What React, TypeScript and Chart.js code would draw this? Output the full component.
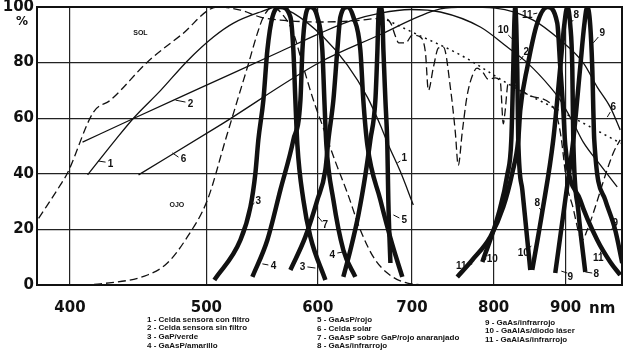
import React, { useEffect, useRef } from "react";
import { Chart, registerables } from "chart.js";

Chart.register(...registerables);

type P = [number, number];

const X_TICKS = [400, 500, 600, 700, 800, 900];
const Y_TICKS = [0, 20, 40, 60, 80, 100];
const X_MIN = 379;
const X_MAX = 987;

// Solar spectrum (dashed) and its upper envelope (dotted)
const SOL: P[] = [
  [380, 24], [393.8, 36], [398.4, 40.3], [415.7, 62.2], [427.4, 66.5], [454.9, 80.6], [480, 90],
  [509.2, 100], [528.7, 98.9], [546.2, 96.4], [564.4, 95.3], [602.6, 94.6], [636, 95], [669, 96],
  [676, 94.2], [681.6, 89.2], [685, 87.1], [692.8, 87.1], [700.4, 89.9], [709.6, 89.2], [715.6, 83.5],
  [719, 70], [725, 78.4], [731, 85.3], [737, 85.6], [745.8, 70], [751.4, 55], [755, 43], [760, 55],
  [766, 68], [773.6, 76], [778.6, 78], [786, 76.5], [793, 74], [802, 74.5], [808.8, 73], [812.8, 58],
  [815, 62], [819.4, 72.6], [850, 68], [882, 64], [892.2, 55], [902.5, 35.3], [909.9, 28.8],
  [924.8, 16.2], [932.4, 19.8], [973, 47.5], [984.1, 52.2],
];
const SOL_ENVELOPE: P[] = [[672, 95.3], [700, 91], [758, 82.7], [828, 71], [889, 63], [985, 51]];

// Eye sensitivity (dashed)
const OJO: P[] = [
  [408, 0], [420.5, 0.4], [454.1, 3.6], [469.1, 7.9], [484.7, 17.3], [500.9, 30.6], [515.9, 52.2],
  [526.1, 66.5], [534.8, 78.4], [543.6, 90.6], [548.9, 96.4], [557.1, 100], [566, 97.5], [576.5, 90.6],
  [586, 78.4], [595.7, 66.5], [605.5, 56.5], [617.7, 44.2], [629.8, 33.1], [643.3, 19.8], [657.1, 10.1],
  [672.3, 4.3], [694.7, 0.7], [721.3, 0],
];

// Thin solid curves
const C1: P[] = [
  [411.7, 39.6], [430.9, 52.2], [443.8, 60], [464, 70], [484.7, 80.6], [505.8, 89.2], [522.7, 94.2],
  [546.2, 98.2], [561.7, 100], [576.5, 97.8], [605.5, 89.2], [629.8, 79.1], [650.7, 67.6],
  [664.7, 57.5], [673.5, 50.4], [686.8, 40.8], [701.5, 28.8],
];
const C2: P[] = [
  [408.3, 51.4], [443.8, 59.9], [495.2, 70.9], [564.4, 84], [602.6, 90.6], [632.9, 95], [664.7, 97.8],
  [698.1, 99.1], [733.2, 98.2], [782.8, 92.8], [818.1, 85.6], [845.4, 79.9], [877.7, 71.2],
  [892.2, 66.5], [911.4, 58.3], [926.4, 51.4], [952.5, 43.2], [979.3, 35.3],
];
const C6: P[] = [
  [447.5, 39.6], [511.7, 57.6], [602.6, 80.2], [664.7, 90.1], [709.6, 96.8], [733.2, 99.3], [763.8, 100],
  [802.2, 99.6], [853.6, 95.3], [892.2, 88.1], [926.4, 79.9], [947.8, 71.2], [968.2, 64], [984.1, 55.8],
];

// Thick emission curves
const C3: P[] = [
  [506.6, 1.8], [528.7, 16.2], [537.4, 28.1], [541.8, 40.3], [544.4, 52.2], [548.9, 66.5], [552.5, 84.5],
  [557.1, 96.4], [564.4, 100], [573.7, 96.4], [576.5, 84.5], [578.4, 66.5], [580.3, 50.4], [586, 30.6],
  [592.8, 17.3], [607.5, 1.8],
];
const C4: P[] = [
  [539.1, 2.9], [552.5, 16.2], [564.4, 34.2], [576.5, 52.2], [583.2, 66.5], [585.1, 84.5], [587.9, 96.4],
  [592.8, 100], [599.6, 96.4], [604.5, 84.5], [606.5, 66.5], [608.5, 50.4], [615.5, 30.6], [625.6, 12.6],
  [638, 2.9],
];
const C5: P[] = [
  [625.6, 2.9], [632.9, 12.6], [641.2, 25.2], [648.6, 39.6], [653.9, 52.2], [659.3, 66.5], [661.5, 84.5],
  [662.6, 96.4], [664.7, 100], [666.9, 96.4], [668, 84.5], [670.2, 66.5], [672.3, 50.4], [673.4, 30.6],
  [675.7, 7.9],
];
const C7: P[] = [
  [573.7, 5.4], [587.9, 17.3], [599.6, 30.6], [607.5, 41.4], [610.5, 52.2], [615.5, 66.5], [619.5, 84.5],
  [622.6, 96.4], [629.8, 100], [636, 96.4], [643.3, 84.5], [646.4, 66.5], [650.7, 50.4], [664.7, 30.6],
  [677.9, 14.4], [689, 2.9],
];
const C8: P[] = [
  [852.2, 5.4], [866.3, 26.3], [882, 52.2], [892.2, 78.4], [898, 93.5], [902.5, 100], [906.9, 93.5],
  [909.9, 78.4], [911.4, 52.2], [918.8, 27], [929.4, 4.7],
];
const C9: P[] = [
  [884.9, 4.3], [899.5, 30.6], [911.4, 52.2], [921.8, 78.4], [927.9, 93.5], [932.4, 100], [937, 93.5],
  [940.1, 78.4], [943.2, 52.2], [960.3, 30.6], [976.1, 19.8], [987.4, 7.9],
];
const C10: P[] = [
  [785.4, 8.3], [806.1, 25.2], [818.1, 39.6], [823.5, 52.2], [826.1, 77.3], [827.5, 93.5], [828.9, 100],
  [830.2, 93.5], [831.6, 77.3], [832.9, 52.2], [838.5, 34.2], [844, 19.8], [849.5, 5.4],
];
const C11: P[] = [
  [753.8, 2.9], [772.6, 9], [795.7, 17.3], [812.8, 28.1], [824.8, 40.3], [832.9, 52.2], [835.7, 62.9],
  [845.4, 78.4], [859.2, 94.2], [873.4, 100], [887.8, 94.2], [892.2, 78.4], [896.6, 62.9], [899.5, 50.4],
  [921.8, 30.6], [947.8, 16.2], [968.2, 8.3], [984.1, 3.6],
];

const LEGEND_COL1 = ["1 - Celda sensora con filtro", "2 - Celda sensora sin filtro", "3 - GaP/verde", "4 - GaAsP/amarillo"];
const LEGEND_COL2 = ["5 - GaAsP/rojo", "6 - Celda solar", "7 - GaAsP sobre GaP/rojo anaranjado", "8 - GaAs/infrarrojo"];
const LEGEND_COL3 = ["9 - GaAs/infrarrojo", "10 - GaAlAs/diodo láser", "11 - GaAlAs/infrarrojo"];

// [text, labelX, labelY, leaderX1, leaderY1, leaderX2, leaderY2] in data units
const CURVE_LABELS: [string, number, number, number, number, number, number][] = [
  ["1", 427.4, 43.5, 424, 44.2, 419, 44.6],
  ["1", 691.3, 45.7, 686.8, 44.6, 683.4, 43.9],
  ["2", 487.2, 65.1, 483.2, 65.8, 475.4, 66.5],
  ["2", 844, 83.8, 839.8, 82.4, 835.7, 80.9],
  ["3", 544.4, 30.2, 540.9, 29.5, 537.4, 28.1],
  ["3", 585.1, 6.5, 589.9, 6.5, 597.7, 6.1],
  ["4", 558, 6.8, 553.4, 7.2, 548, 7.6],
  ["4", 614.5, 10.8, 619.5, 11.5, 625.6, 11.9],
  ["5", 691.3, 23.4, 685.7, 24.1, 679, 25.2],
  ["6", 481.6, 45.3, 477.7, 46, 473, 47.5],
  ["6", 973, 64, 968.2, 62.2, 963.5, 60.4],
  ["7", 607.5, 21.6, 604.5, 22.7, 599.6, 24.8],
  ["8", 915.9, 97.1, 911.4, 95.3, 906.9, 94.2],
  ["8", 859.2, 29.5, 862.1, 27.7, 867.7, 25.9],
  ["8", 946.4, 4, 940.1, 4.3, 929.4, 4.7],
  ["9", 955.6, 90.6, 949.5, 89.2, 941.7, 87.1],
  ["9", 976.1, 22.3, 973, 20.9, 969.8, 19.8],
  ["9", 906.9, 2.9, 902.5, 4.3, 893.7, 5],
  ["10", 812.8, 91.7, 819.4, 89.9, 824.8, 88.5],
  ["10", 839.8, 11.5, 845.4, 12.9, 851, 14],
  ["10", 798.2, 9.4, 790.5, 9.4, 785.4, 8.6],
  ["11", 845.4, 97.1, 853.6, 97.5, 859.2, 97.8],
  ["11", 758.8, 6.8, 763.8, 6.8, 772.6, 7.6],
  ["11", 949.5, 9.7, 952.5, 11.5, 957.2, 13.3],
];

const REGION_LABELS: [string, number, number][] = [
  ["SOL", 448.9, 90.5],
  ["OJO", 476.5, 28.8],
];

const INK = "#111";

type Kind = "thick" | "thin" | "dash" | "dot";
const SERIES: { label: string; data: P[]; kind: Kind }[] = [
  { label: "Sol", data: SOL, kind: "dash" },
  { label: "Sol (envolvente)", data: SOL_ENVELOPE, kind: "dot" },
  { label: "Ojo", data: OJO, kind: "dash" },
  { label: LEGEND_COL1[0], data: C1, kind: "thin" },
  { label: LEGEND_COL1[1], data: C2, kind: "thin" },
  { label: LEGEND_COL2[1], data: C6, kind: "thin" },
  { label: LEGEND_COL1[2], data: C3, kind: "thick" },
  { label: LEGEND_COL1[3], data: C4, kind: "thick" },
  { label: LEGEND_COL2[0], data: C5, kind: "thick" },
  { label: LEGEND_COL2[2], data: C7, kind: "thick" },
  { label: LEGEND_COL2[3], data: C8, kind: "thick" },
  { label: LEGEND_COL3[0], data: C9, kind: "thick" },
  { label: LEGEND_COL3[1], data: C10, kind: "thick" },
  { label: LEGEND_COL3[2], data: C11, kind: "thick" },
];

const overlayPlugin = {
  id: "overlay",
  afterDatasetsDraw(chart: any) {
    const { ctx, chartArea, scales } = chart;
    const x = scales.x;
    const y = scales.y;
    ctx.save();
    ctx.strokeStyle = INK;
    ctx.lineWidth = 2;
    ctx.strokeRect(chartArea.left, chartArea.top, chartArea.right - chartArea.left, chartArea.bottom - chartArea.top);

    ctx.fillStyle = INK;
    ctx.lineWidth = 1;
    ctx.textAlign = "center";
    ctx.textBaseline = "middle";
    ctx.font = 'bold 10px "Liberation Sans"';
    for (const [t, tx, ty, x1, y1, x2, y2] of CURVE_LABELS) {
      ctx.beginPath();
      ctx.moveTo(x.getPixelForValue(x1), y.getPixelForValue(y1));
      ctx.lineTo(x.getPixelForValue(x2), y.getPixelForValue(y2));
      ctx.stroke();
      ctx.fillText(t, x.getPixelForValue(tx), y.getPixelForValue(ty));
    }
    ctx.font = 'bold 7px "Liberation Sans"';
    for (const [t, tx, ty] of REGION_LABELS) {
      ctx.fillText(t, x.getPixelForValue(tx), y.getPixelForValue(ty));
    }
    ctx.restore();
  },
  afterDraw(chart: any) {
    const { ctx, chartArea } = chart;
    ctx.save();
    ctx.fillStyle = INK;
    ctx.textBaseline = "middle";
    ctx.textAlign = "center";
    ctx.font = 'bold 12px "DejaVu Sans"';
    ctx.fillText("%", chartArea.left - 15, chartArea.top + 15);
    ctx.textAlign = "left";
    ctx.font = 'bold 15px "DejaVu Sans"';
    ctx.fillText("nm", chartArea.right - 33, chartArea.bottom + 24);
    ctx.font = 'bold 8px "Liberation Sans"';
    const base = chartArea.bottom;
    const cols: [string[], number, number][] = [
      [LEGEND_COL1, 147, base + 34.5],
      [LEGEND_COL2, 317, base + 35],
      [LEGEND_COL3, 485, base + 37.5],
    ];
    for (const [lines, lx, ly] of cols) {
      lines.forEach((s, i) => ctx.fillText(s, lx, ly + i * 8.7));
    }
    ctx.restore();
  },
};

export default function App() {
  const ref = useRef<HTMLCanvasElement | null>(null);
  useEffect(() => {
    if (!ref.current) return;
    const datasets = SERIES.map((s) => ({
      label: s.label,
      data: s.data.map(([x, y]) => ({ x, y })),
      borderColor: INK,
      backgroundColor: INK,
      borderWidth: s.kind === "thick" ? 4.5 : s.kind === "dot" ? 1.5 : 1.3,
      borderDash: s.kind === "dash" ? [8, 4] : s.kind === "dot" ? [2, 4] : [],
      pointRadius: 0,
      fill: false,
      cubicInterpolationMode: "monotone" as const,
      borderCapStyle: "butt" as const,
      borderJoinStyle: "round" as const,
    }));
    const chart = new Chart(ref.current, {
      type: "line",
      data: { datasets },
      plugins: [overlayPlugin],
      options: {
        animation: false,
        responsive: false,
        devicePixelRatio: 1,
        layout: { padding: { top: 7, right: 3, left: 0, bottom: 0 } },
        plugins: { legend: { display: false }, tooltip: { enabled: false } },
        scales: {
          x: {
            type: "logarithmic",
            min: X_MIN,
            max: X_MAX,
            afterBuildTicks: (s: any) => {
              s.ticks = X_TICKS.map((v) => ({ value: v }));
            },
            afterFit: (s: any) => {
              s.height = 73;
              s.paddingLeft = 0;
              s.paddingRight = 0;
            },
            ticks: {
              autoSkip: false,
              maxRotation: 0,
              padding: 14,
              color: INK,
              font: { family: '"DejaVu Sans"', size: 15, weight: "bold" },
              callback: (v: any) => String(v),
            },
            grid: { color: "#222", lineWidth: 1.2, drawTicks: false },
            border: { display: true, color: INK, width: 2 },
          },
          y: {
            min: 0,
            max: 100,
            afterBuildTicks: (s: any) => {
              s.ticks = Y_TICKS.map((v) => ({ value: v }));
            },
            afterFit: (s: any) => {
              s.width = 37;
              s.paddingTop = 0;
              s.paddingBottom = 0;
            },
            ticks: {
              padding: 3,
              color: INK,
              font: { family: '"DejaVu Sans"', size: 15, weight: "bold" },
            },
            grid: { color: "#222", lineWidth: 1.2, drawTicks: false },
            border: { display: true, color: INK, width: 2 },
          },
        },
      },
    });
    return () => chart.destroy();
  }, []);
  return (
    <div style={{ position: "fixed", left: 0, top: 0, width: 625, height: 358, background: "#fff" }}>
      <canvas ref={ref} width={625} height={358} />
    </div>
  );
}
